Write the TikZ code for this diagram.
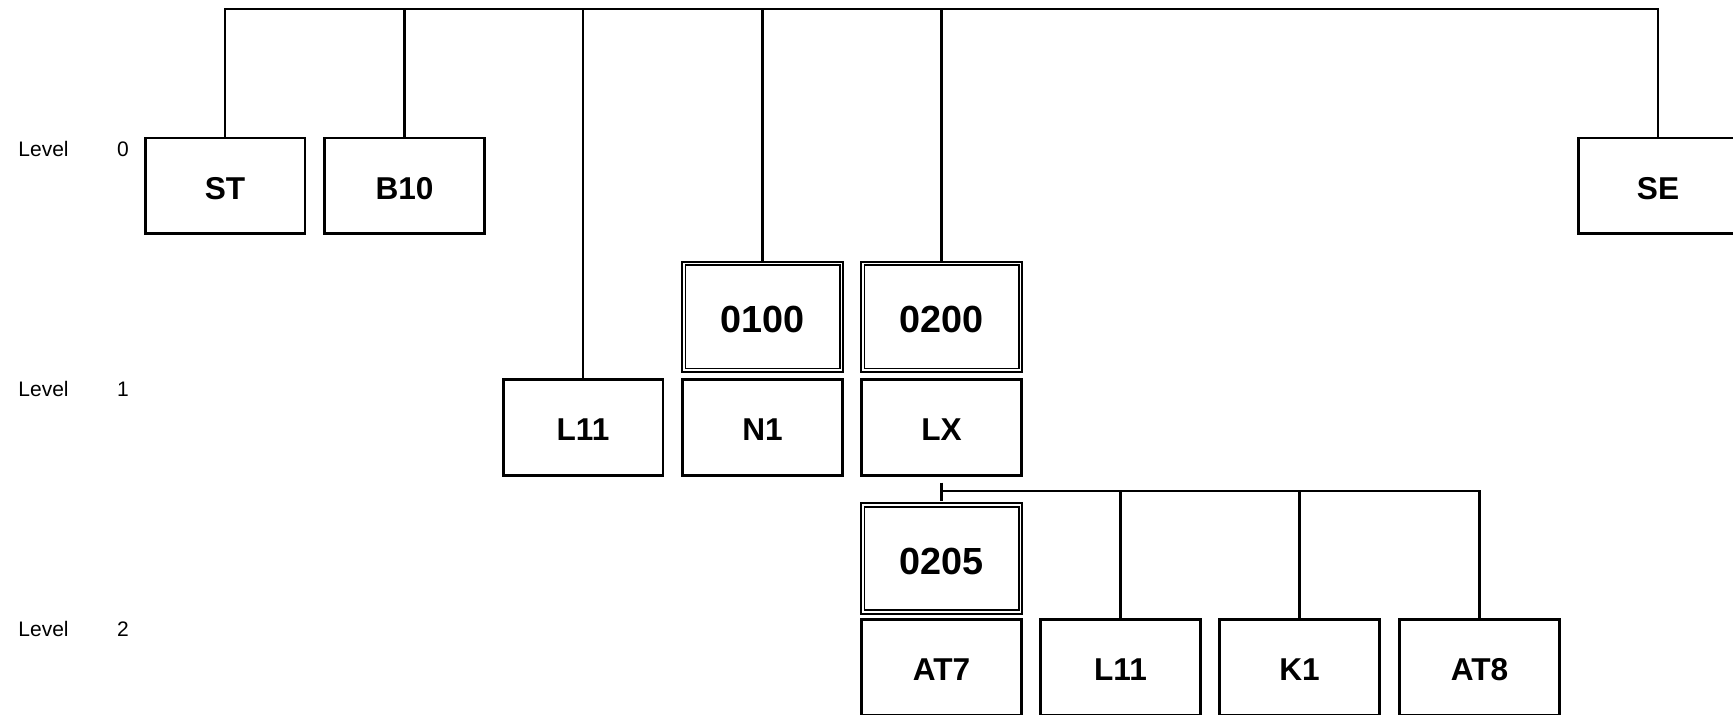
\documentclass[tikz,border=0pt]{standalone}
\usepackage{fontspec}
\setmainfont{Liberation Sans}
\usepackage{tikz}
\tikzstyle{Box}=[draw,rectangle,line width=1.3pt,minimum width=79.8pt,
minimum height=47.8pt,inner sep=0pt,text height=13.3pt,text depth=0pt,
font=\fontsize{15.8pt}{18pt}\selectfont\bfseries]
\tikzstyle{KeyBox}=[Box,line width=0.9pt,double,double distance=0.9pt,
minimum width=78.9pt,minimum height=53.4pt,text height=15.5pt,
font=\fontsize{18.9pt}{22pt}\selectfont\bfseries]
\tikzstyle{Edge}=[draw,line width=1.3pt]
\tikzstyle{LevelST}=[inner sep=0pt,font=\fontsize{10.5pt}{13pt}\selectfont]

\begin{document}
\begin{tikzpicture}[x=0.5pt,y=-0.5pt]
    \useasboundingbox(0,0)rectangle(1733,715);
    % level labels
    \node[LevelST,anchor=west](lv0)at(18,149){Level};
    \node[LevelST](n0)at(123,149){0};
    \node[LevelST,anchor=west](lv1)at(18,389){Level};
    \node[LevelST](n1)at(123,389){1};
    \node[LevelST,anchor=west](lv2)at(18,629){Level};
    \node[LevelST](n2)at(123,629){2};
    % level 0
    \node[Box](ST)at(225,186){ST};
    \node[Box](B10)at(404.5,186){B10};
    \node[Box](SE)at(1658,186){SE};
    % level 1
    \node[Box](L11a)at(583,427.5){L11};
    \node[Box](N1)at(762.5,427.5){N1};
    \node[Box](LX)at(941.5,427.5){LX};
    \node[KeyBox](K0100)at(762.5,317){0100};
    \node[KeyBox](K0200)at(941.5,317){0200};
    % level 2
    \node[KeyBox](K0205)at(941.5,558.5){0205};
    \node[Box](AT7)at(941.5,667.5){AT7};
    \node[Box](L11b)at(1120.5,667.5){L11};
    \node[Box](K1)at(1299.5,667.5){K1};
    \node[Box](AT8)at(1479.5,667.5){AT8};
    \coordinate(top)at(0,9);
    \coordinate(mid)at(0,491);
    \draw[Edge](ST.north)--(ST.north|-top)--(SE.north|-top)--(SE.north);
    \draw[Edge](B10.north)--(B10.north|-top);
    \draw[Edge](L11a.north)--(L11a.north|-top);
    \draw[Edge](K0100.north)--(K0100.north|-top);
    \draw[Edge](K0200.north)--(K0200.north|-top);
    \draw[Edge]([yshift=-3pt]LX.south)--([yshift=1.5pt]K0205.north);
    \draw[Edge](LX.south|-mid)-|(AT8.north);
    \draw[Edge](L11b.north)--(L11b.north|-mid);
    \draw[Edge](K1.north)--(K1.north|-mid);
\end{tikzpicture}
\end{document}
